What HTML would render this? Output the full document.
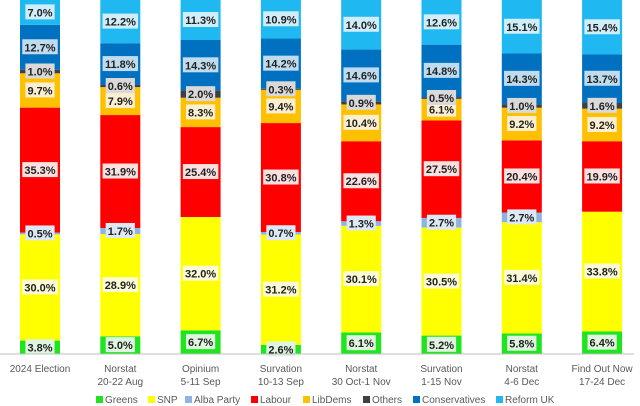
<!DOCTYPE html>
<html><head><meta charset="utf-8"><style>
body{margin:0;background:#fff;}
svg{display:block;font-family:"Liberation Sans",sans-serif;}
</style></head><body>
<svg id="chart" width="640" height="406" viewBox="0 0 640 406" xmlns="http://www.w3.org/2000/svg"></svg>
<script>
const categories = [["2024 Election"],["Norstat","20-22 Aug"],["Opinium","5-11 Sep"],["Survation","10-13 Sep"],["Norstat","30 Oct-1 Nov"],["Survation","1-15 Nov"],["Norstat","4-6 Dec"],["Find Out Now","17-24 Dec"]];
const seriesNames = ["Greens","SNP","Alba Party","Labour","LibDems","Others","Conservatives","Reform UK"];
const greens = [3.8,5.0,6.7,2.6,6.1,5.2,5.8,6.4];
const snp = [30.0,28.9,32.0,31.2,30.1,30.5,31.4,33.8];
const alba = [0.5,1.7,0,0.7,1.3,2.7,2.7,0];
const labour = [35.3,31.9,25.4,30.8,22.6,27.5,20.4,19.9];
const libdems = [9.7,7.9,8.3,9.4,10.4,6.1,9.2,9.2];
const others = [1.0,0.6,2.0,0.3,0.9,0.5,1.0,1.6];
const conservatives = [12.7,11.8,14.3,14.2,14.6,14.8,14.3,13.7];
const reform = [7.0,12.2,11.3,10.9,14.0,12.6,15.1,15.4];
const series = [greens,snp,alba,labour,libdems,others,conservatives,reform];
const colors = ["#1ee51e","#ffff00","#8eb4e3","#ff0000","#ffc000","#404040","#0070c0","#1fb8f0"];
const labelBg = ["#dff5df","#fbfbd6","#dde8f5","#fbe0e0","#fcefd0","#d9d9d9","#bfdcee","#cfeefa"];
const svg = document.getElementById('chart');
const NS = "http://www.w3.org/2000/svg";
const baseY = 354, plotH = 354;
const xC = i => 40 + 80.3*i;
const yS = v => v/100*plotH;
function mk(tag, attrs){const e=document.createElementNS(NS,tag);for(const k in attrs)e.setAttribute(k,attrs[k]);svg.appendChild(e);return e;}
categories.forEach((cat,i)=>{
  const totals = series.reduce((s,a)=>s+a[i],0);
  let cum = 0;
  const labels=[];
  series.forEach((arr,s)=>{
    const v = arr[i];
    const h = yS(v/totals*100);
    const y = baseY - yS(cum/totals*100) - h;
    cum += v;
    if(v<=0) return;
    const r = mk('rect',{x:xC(i)-20,y:y,width:40,height:h,fill:colors[s]});
    
    
    labels.push([s,v,y+h/2]);
  });
  labels.forEach(([s,v,cy])=>{
    const txt = v.toFixed(1)+'%';
    const w = txt.length*6.3+4;
    const b = mk('rect',{x:xC(i)-w/2,y:cy-8,width:w,height:15,fill:labelBg[s]});
    
    
    const t = mk('text',{x:xC(i),y:cy+4,'text-anchor':'middle','font-size':'11','font-weight':'bold',fill:'#222'});
    t.textContent = txt;
    
    
  });
  cat.forEach((line,k)=>{
    const t = mk('text',{x:xC(i),y:372+k*13,'text-anchor':'middle','font-size':'10',fill:'#595959'});
    t.textContent = line;
    
    
  });
});
const ax = mk('line',{x1:0,y1:baseY,x2:634,y2:baseY,stroke:'#bfbfbf','stroke-width':1});


const legendX = [96,148,185,251,303,363,413,496];
seriesNames.forEach((n,s)=>{
  const r = mk('rect',{x:legendX[s],y:396,width:7,height:7,fill:colors[s]});
  
  
  const t = mk('text',{x:legendX[s]+9,y:403,'font-size':'10',fill:'#595959'});
  t.textContent = n;
  
  
});
</script>
</body></html>
